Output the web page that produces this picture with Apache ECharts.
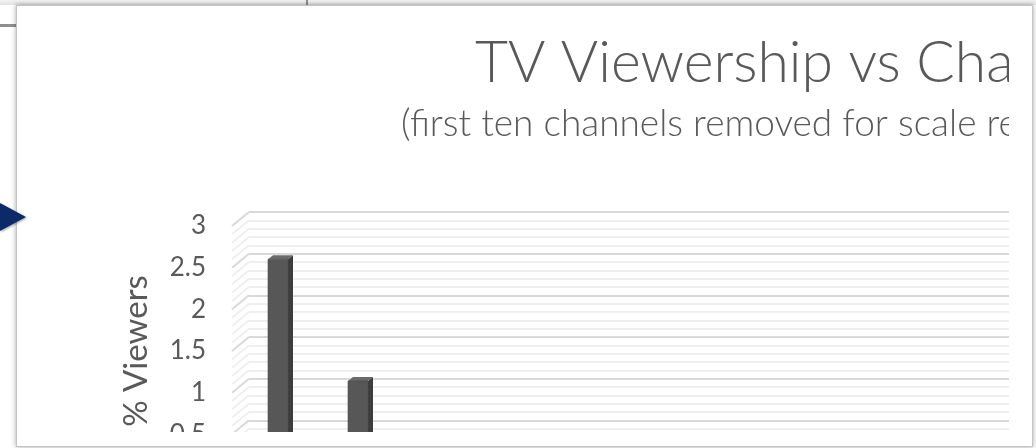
<!DOCTYPE html>
<html>
<head>
<meta charset="utf-8">
<script src="https://cdn.jsdelivr.net/npm/echarts@6/dist/echarts.min.js"></script>
<style>
  html, body { margin:0; padding:0; background:#ffffff; }
  #page { position:relative; width:1036px; height:448px; overflow:hidden; background:#ffffff; }
  #topstrip { position:absolute; left:0; top:0; width:1036px; height:5px; background:linear-gradient(#f2f2f2,#e2e2e2); }
  #vline { position:absolute; left:306px; top:0; width:2px; height:5px; background:#8c8c8c; }
  #hline { position:absolute; left:0; top:24px; width:18px; height:3px; background:#8f8f8f; filter:blur(0.6px); }
  #frame { position:absolute; left:16px; top:5px; width:1015px; height:440px; border:1px solid #c4c4c4; background:#ffffff; box-shadow:0 0 5px rgba(0,0,0,0.35); }
  #clip { position:absolute; left:17px; top:6px; width:992px; height:426px; overflow:hidden; }
  #chart { position:absolute; left:0; top:0; width:1600px; height:640px; }
  #arrow { position:absolute; left:0; top:196px; }
</style>
</head>
<body>
<div id="page">
  <div id="topstrip"></div>
  <div id="vline"></div>
  <div id="hline"></div>
  <div id="frame"></div>
  <div id="clip"><div id="chart"></div></div>
  <svg id="arrow" width="40" height="44" viewBox="0 0 40 44">
    <defs><filter id="sh" x="-50%" y="-50%" width="200%" height="200%"><feDropShadow dx="1" dy="1" stdDeviation="1.2" flood-color="#000" flood-opacity="0.35"/></filter></defs>
    <polygon points="0,7 26,21 0,35" fill="#0f2a68" filter="url(#sh)"/>
  </svg>
</div>
<script>
// ---- data ----
const titleText = 'TV Viewership vs Channel';
const subtitleText = '(first ten channels removed for scale reasons)';
const yAxisName = '% Viewers';
const channels = ['11','12','13','14','15','16','17','18','19','20','21','22','23','24','25','26'];
const viewers  = [2.54, 1.08, 0.32, 0.28, 0.25, 0.22, 0.2, 0.18, 0.16, 0.15, 0.13, 0.12, 0.1, 0.09, 0.08, 0.07];
const yMin = 0, yMax = 3, yStep = 0.5, yMinorSplits = 5;
const wallTicks = [0, 0.5, 1, 1.5, 2, 2.5, 3];

const chart = echarts.init(document.getElementById('chart'), null, { renderer: 'canvas' });
const font = 'Lato, "Open Sans", sans-serif';
const gray = '#595959';

function yAxisBase(extra) {
  return Object.assign({
    type: 'value', min: yMin, max: yMax, interval: yStep,
    axisLine: { show: false }, axisTick: { show: false },
    axisLabel: { show: false }, splitLine: { show: false }
  }, extra);
}
function xAxisBase(gi) {
  return {
    type: 'category', gridIndex: gi, data: channels, boundaryGap: true,
    axisLine: { show: false }, axisTick: { show: false }, axisLabel: { show: false }
  };
}

const option = {
  backgroundColor: 'transparent',
  animation: false,
  title: [
    { text: titleText, left: 453, top: 24,
      textStyle: { fontFamily: font, fontSize: 57, fontWeight: 300, color: gray } },
    { text: subtitleText, left: 379, top: 95,
      textStyle: { fontFamily: font, fontSize: 37, fontWeight: 300, color: gray } }
  ],
  grid: [
    { left: 232, top: 206, width: 1280, height: 250 },   // back wall
    { left: 215, top: 220, width: 1280, height: 250 },   // front plane (labels)
    { left: 223.5, top: 213, width: 1280, height: 250 }  // middle plane (bars)
  ],
  xAxis: [xAxisBase(0), xAxisBase(1), xAxisBase(2)],
  yAxis: [
    yAxisBase({ gridIndex: 0,
      splitLine: { show: true, lineStyle: { color: '#d9d9d9', width: 2 } },
      minorTick: { show: false, splitNumber: yMinorSplits },
      minorSplitLine: { show: true, lineStyle: { color: '#efefef', width: 2 } } }),
    yAxisBase({ gridIndex: 1,
      axisLabel: { show: true, margin: 26, fontFamily: font, fontSize: 26, color: gray },
      name: yAxisName, nameLocation: 'middle', nameGap: 79, nameRotate: 90,
      nameTextStyle: { fontFamily: font, fontSize: 33, color: gray } }),
    yAxisBase({ gridIndex: 2 })
  ],
  series: [
    { // side-wall gridline stubs, drawn against the back-wall axis
      type: 'custom', xAxisIndex: 0, yAxisIndex: 0, silent: true, z: 1,
      data: [0],
      renderItem: function (params, api) {
        const children = [];
        const band = api.size([1, 0])[0];
        for (let k = 0; k < wallTicks.length; k++) {
          const major = wallTicks[k];
          for (let m = 0; m < yMinorSplits; m++) {
            const v = major + m * yStep / yMinorSplits;
            if (v > yMax + 1e-9) continue;
            const p = api.coord([0, v]);
            const x0 = p[0] - band / 2;
            children.push({ type: 'line',
              shape: { x1: x0, y1: p[1], x2: x0 - 17, y2: p[1] + 14 },
              style: { stroke: m === 0 ? '#d9d9d9' : '#efefef', lineWidth: 2 } });
          }
        }
        return { type: 'group', children: children };
      }
    },
    { // 3D columns
      type: 'custom', xAxisIndex: 2, yAxisIndex: 2, z: 5,
      data: viewers.map(function (v, i) { return [i, v]; }),
      renderItem: function (params, api) {
        const top = api.coord([api.value(0), api.value(1)]);
        const base = api.coord([api.value(0), 0]);
        const bw = 20, dx = 2.5, dy = 2;
        const fl = top[0] - dx - bw / 2, fr = top[0] - dx + bw / 2;
        const ft = top[1] + dy, fb = base[1] + dy;
        return { type: 'group', children: [
          { type: 'polygon', shape: { points: [[fr, ft], [fr + 2 * dx, ft - 2 * dy], [fr + 2 * dx, fb - 2 * dy], [fr, fb]] },
            style: { fill: '#3d3d3d' } },
          { type: 'polygon', shape: { points: [[fl, ft], [fr, ft], [fr + 2 * dx, ft - 2 * dy], [fl + 2 * dx, ft - 2 * dy]] },
            style: { fill: '#6a6a6a' } },
          { type: 'rect', shape: { x: fl, y: ft, width: bw, height: fb - ft },
            style: { fill: '#575757', stroke: '#4a4a4a', lineWidth: 0.6 } }
        ] };
      }
    }
  ]
};
chart.setOption(option);
</script>
</body>
</html>
